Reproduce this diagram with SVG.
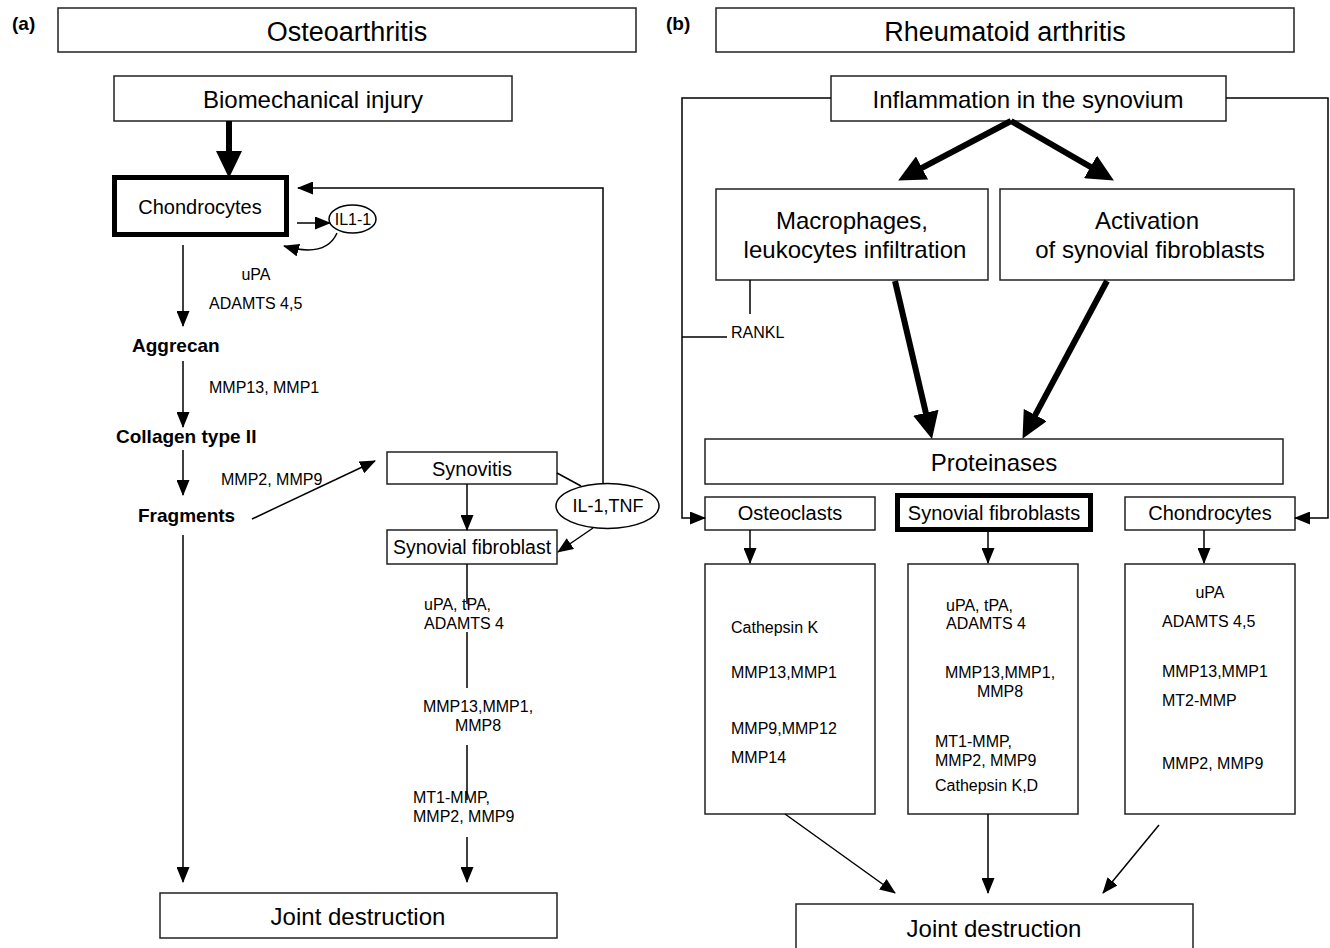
<svg xmlns="http://www.w3.org/2000/svg" width="1330" height="948" viewBox="0 0 1330 948">
<style>
text{font-family:"Liberation Sans",Arial,sans-serif;fill:#000}
.box{fill:#fff;stroke:#222;stroke-width:1.5}
.thickbox{fill:#fff;stroke:#000;stroke-width:5}
.ln{fill:none;stroke:#000;stroke-width:1.5}
.arr{fill:none;stroke:#000;stroke-width:1.5;marker-end:url(#ah)}
.tarr{fill:none;stroke:#000;stroke-width:6;marker-end:url(#tah)}
.title{font-size:27px;text-anchor:middle}
.big{font-size:24px;text-anchor:middle}
.mid{font-size:20px;text-anchor:middle}
.sm{font-size:16px}
.smc{font-size:16px;text-anchor:middle}
.bold{font-size:19px;font-weight:bold}
.lab{font-size:19px;font-weight:bold}
</style>
<defs>
<marker id="ah" markerUnits="userSpaceOnUse" markerWidth="16" markerHeight="13" refX="15" refY="6.5" orient="auto">
<path d="M0,0 L16,6.5 L0,13 z" fill="#000"/>
</marker>
<marker id="tah" markerUnits="userSpaceOnUse" markerWidth="28" markerHeight="26" refX="6" refY="13" orient="auto">
<path d="M0,0 L27,13 L0,26 z" fill="#000"/>
</marker>
</defs>

<!-- Panel (a) -->
<text id="label-a" class="lab" x="12" y="30">(a)</text>
<g id="oa-title"><rect class="box" x="58" y="8" width="578" height="44"/><text class="title" x="347" y="41">Osteoarthritis</text></g>
<g id="biomech"><rect class="box" x="114" y="76" width="398" height="45"/><text class="big" x="313" y="108">Biomechanical injury</text></g>
<g id="chondro-a"><rect class="thickbox" x="114.5" y="177.5" width="172" height="57"/><text class="mid" x="200" y="214">Chondrocytes</text></g>
<g id="il1-1"><ellipse cx="352.5" cy="219" rx="23.5" ry="14" fill="#fff" stroke="#000" stroke-width="1.5"/><text class="smc" x="353" y="225" style="font-size:16px">IL1-1</text></g>
<g id="aggrecan"><text class="bold" x="132" y="352">Aggrecan</text></g>
<g id="collagen"><text class="bold" x="116" y="443">Collagen type II</text></g>
<g id="fragments"><text class="bold" x="138" y="522">Fragments</text></g>
<g id="synovitis"><rect class="box" x="387" y="452" width="170" height="32"/><text class="mid" x="472" y="476">Synovitis</text></g>
<g id="il1tnf"><ellipse cx="607.5" cy="506" rx="51.5" ry="22.5" fill="#fff" stroke="#000" stroke-width="1.5"/><text class="smc" x="608" y="512" style="font-size:18px">IL-1,TNF</text></g>
<g id="synfib-a"><rect class="box" x="387" y="530" width="170" height="34"/><text class="mid" x="472" y="554" style="font-size:19.5px">Synovial fibroblast</text></g>
<g id="joint-a"><rect class="box" x="160" y="893" width="397" height="45"/><text class="big" x="358" y="925">Joint destruction</text></g>

<!-- Panel (b) -->
<text id="label-b" class="lab" x="666" y="30">(b)</text>
<g id="ra-title"><rect class="box" x="716" y="8" width="578" height="44"/><text class="title" x="1005" y="41">Rheumatoid arthritis</text></g>
<g id="inflammation"><rect class="box" x="831" y="76" width="395" height="45"/><text class="big" x="1028" y="108">Inflammation in the synovium</text></g>
<g id="macrophages"><rect class="box" x="716" y="189" width="272" height="91"/><text class="big" x="852" y="229">Macrophages,</text><text class="big" x="855" y="258">leukocytes infiltration</text></g>
<g id="activation"><rect class="box" x="1000" y="189" width="294" height="91"/><text class="big" x="1147" y="229">Activation</text><text class="big" x="1150" y="258">of synovial fibroblasts</text></g>
<g id="rankl"><text class="sm" x="731" y="338">RANKL</text></g>
<g id="proteinases"><rect class="box" x="705" y="439" width="578" height="45"/><text class="big" x="994" y="471">Proteinases</text></g>
<g id="osteoclasts"><rect class="box" x="705" y="497" width="170" height="33"/><text class="mid" x="790" y="520">Osteoclasts</text></g>
<g id="synfib-b"><rect class="thickbox" x="897.5" y="495.5" width="193" height="34"/><text class="mid" x="994" y="520">Synovial fibroblasts</text></g>
<g id="chondro-b"><rect class="box" x="1125" y="497" width="170" height="33"/><text class="mid" x="1210" y="520">Chondrocytes</text></g>
<g id="osteo-list"><rect class="box" x="705" y="564" width="170" height="250"/>
<text class="sm" x="731" y="633">Cathepsin K</text>
<text class="sm" x="731" y="678">MMP13,MMP1</text>
<text class="sm" x="731" y="734">MMP9,MMP12</text>
<text class="sm" x="731" y="763">MMP14</text></g>
<g id="synfib-list"><rect class="box" x="908" y="564" width="170" height="250"/>
<text class="sm" x="946" y="611">uPA, tPA,</text>
<text class="sm" x="946" y="629">ADAMTS 4</text>
<text class="smc" x="1000" y="678">MMP13,MMP1,</text>
<text class="smc" x="1000" y="697">MMP8</text>
<text class="sm" x="935" y="747">MT1-MMP,</text>
<text class="sm" x="935" y="766">MMP2, MMP9</text>
<text class="sm" x="935" y="791">Cathepsin K,D</text></g>
<g id="chondro-list"><rect class="box" x="1125" y="564" width="170" height="250"/>
<text class="smc" x="1210" y="598">uPA</text>
<text class="sm" x="1162" y="627">ADAMTS 4,5</text>
<text class="sm" x="1162" y="677">MMP13,MMP1</text>
<text class="sm" x="1162" y="706">MT2-MMP</text>
<text class="sm" x="1162" y="769">MMP2, MMP9</text></g>
<g id="joint-b"><rect class="box" x="796" y="904" width="397" height="50"/><text class="big" x="994" y="937">Joint destruction</text></g>

<!-- Connectors -->
<g id="connectors">
<!-- (a) -->
<path class="tarr" d="M229,121 L229,157"/>
<path class="arr" d="M297,223 L330,223"/>
<path class="arr" d="M337,233 Q326,258 284,246"/>
<path class="arr" d="M603,484 L603,188 L298,188"/>
<path class="arr" d="M183,245 L183,326"/>
<path class="arr" d="M183,361 L183,427"/>
<path class="arr" d="M183,450 L183,495"/>
<path class="arr" d="M252,519 L375,461"/>
<path class="arr" d="M183,535 L183,882"/>
<path class="ln" d="M557,473 L581,486"/>
<path class="arr" d="M467,484 L467,530"/>
<path class="arr" d="M593,528 L558,552"/>
<path class="ln" d="M467,564 L467,604 M467,632 L467,688 M467,745 L467,800"/>
<path class="arr" d="M467,837 L467,882"/>
<text class="sm" x="424" y="610">uPA, tPA,</text>
<text class="sm" x="424" y="629">ADAMTS 4</text>
<text class="smc" x="478" y="712">MMP13,MMP1,</text>
<text class="smc" x="478" y="731">MMP8</text>
<text class="sm" x="413" y="803">MT1-MMP,</text>
<text class="sm" x="413" y="822">MMP2, MMP9</text>
<text class="smc" x="256" y="280">uPA</text>
<text class="sm" x="209" y="309">ADAMTS 4,5</text>
<text class="sm" x="209" y="393">MMP13, MMP1</text>
<text class="sm" x="221" y="485">MMP2, MMP9</text>
<!-- (b) -->
<path class="arr" d="M831,98 L682,98 L682,518 L705,518"/>
<path class="arr" d="M1226,98 L1328,98 L1328,518 L1295,518"/>
<path class="tarr" d="M1011,121 L916.7,170.7"/>
<path class="tarr" d="M1011,121 L1095.7,169.9"/>
<path class="tarr" d="M895,281 L927.2,418.6"/>
<path class="tarr" d="M1107,281 L1032.4,420.3"/>
<path class="ln" d="M750,280 L750,314 M682,337 L727,337"/>
<path class="arr" d="M750,530 L750,563"/>
<path class="arr" d="M988,532 L988,563"/>
<path class="arr" d="M1204,530 L1204,563"/>
<path class="arr" d="M785,814 L895,893"/>
<path class="arr" d="M988,814 L988,893"/>
<path class="arr" d="M1159,825 L1103,893"/>
</g>
</svg>
